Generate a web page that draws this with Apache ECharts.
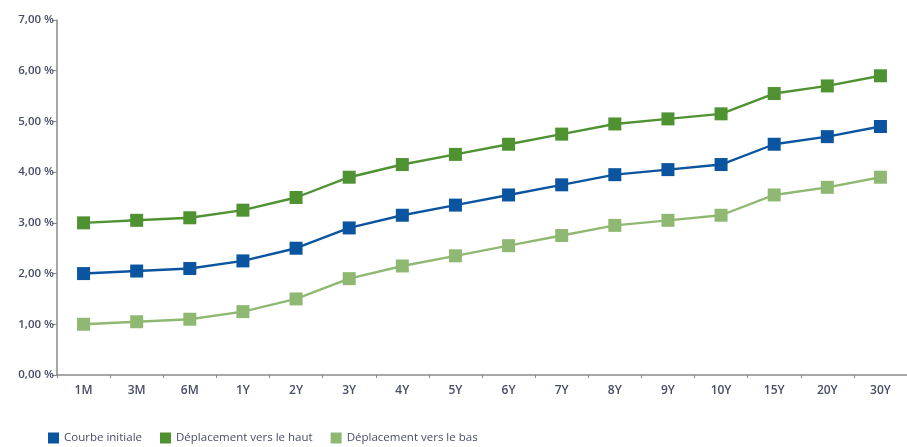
<!DOCTYPE html>
<html>
<head>
<meta charset="utf-8">
<script src="https://cdn.jsdelivr.net/npm/echarts@6/dist/echarts.min.js"></script>
<style>
  html, body { margin: 0; padding: 0; background: #fff; }
  #chart { width: 907px; height: 447px; }
</style>
</head>
<body>
<div id="chart"></div>
<script>
// Maturities along the x axis
const maturities = ['1M', '3M', '6M', '1Y', '2Y', '3Y', '4Y', '5Y', '6Y', '7Y', '8Y', '9Y', '10Y', '15Y', '20Y', '30Y'];

// Rates in percent
const courbeInitiale = [2.00, 2.05, 2.10, 2.25, 2.50, 2.90, 3.15, 3.35, 3.55, 3.75, 3.95, 4.05, 4.15, 4.55, 4.70, 4.90];
const deplacementHaut = [3.00, 3.05, 3.10, 3.25, 3.50, 3.90, 4.15, 4.35, 4.55, 4.75, 4.95, 5.05, 5.15, 5.55, 5.70, 5.90];
const deplacementBas = [1.00, 1.05, 1.10, 1.25, 1.50, 1.90, 2.15, 2.35, 2.55, 2.75, 2.95, 3.05, 3.15, 3.55, 3.70, 3.90];

const seriesNames = ['Courbe initiale', 'Déplacement vers le haut', 'Déplacement vers le bas'];
const colors = ['#0b55a0', '#4f9232', '#8fb972'];

const font = '"Open Sans", sans-serif';
const textColor = '#474d66';

function lineSeries(name, data, color) {
  return {
    name: name,
    type: 'line',
    data: data,
    symbol: 'rect',
    symbolSize: 13,
    itemStyle: { color: color },
    lineStyle: { color: color, width: 2.4 },
    emphasis: { disabled: true }
  };
}

const chart = echarts.init(document.getElementById('chart'), null, { renderer: 'canvas' });
chart.setOption({
  animation: false,
  color: colors,
  grid: { left: 57, top: 20, bottom: 72, width: 859 },
  legend: {
    left: 48,
    top: 432,
    padding: 0,
    icon: 'rect',
    itemWidth: 11,
    itemHeight: 11,
    itemGap: 18,
    data: seriesNames,
    textStyle: { fontFamily: font, fontSize: 11.5, color: textColor, letterSpacing: -0.2 }
  },
  xAxis: {
    type: 'category',
    data: maturities,
    boundaryGap: true,
    axisLine: { lineStyle: { color: '#8a8a8a', width: 1.5 } },
    axisTick: { show: true, length: 3, lineStyle: { color: '#8a8a8a' } },
    axisLabel: { fontFamily: font, fontSize: 12, fontWeight: 600, color: textColor, margin: 10 },
    splitLine: { show: false }
  },
  yAxis: {
    type: 'value',
    min: 0,
    max: 7,
    interval: 1,
    axisLine: { show: true, lineStyle: { color: '#8a8a8a', width: 1.5 } },
    axisTick: { show: true, length: 5, lineStyle: { color: '#8a8a8a' } },
    axisLabel: {
      fontFamily: font,
      fontSize: 11.5,
      fontWeight: 600,
      color: textColor,
      margin: 3,
      formatter: v => v.toFixed(2).replace('.', ',') + ' %'
    },
    splitLine: { show: false }
  },
  series: [
    lineSeries(seriesNames[0], courbeInitiale, colors[0]),
    lineSeries(seriesNames[1], deplacementHaut, colors[1]),
    lineSeries(seriesNames[2], deplacementBas, colors[2])
  ]
});
</script>
</body>
</html>
